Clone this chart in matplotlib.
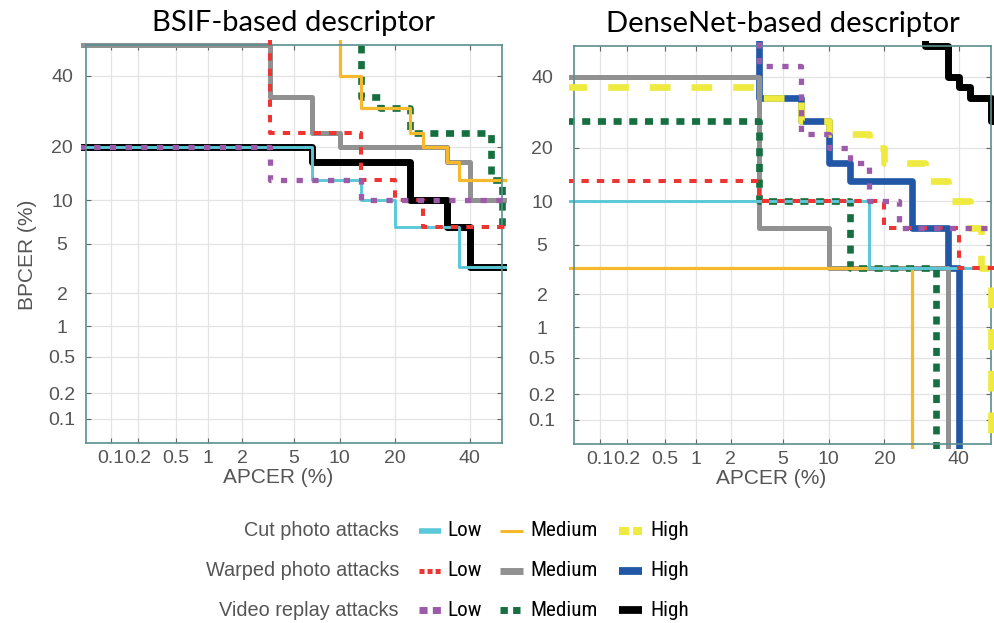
import math
import numpy as np
import matplotlib
matplotlib.use("Agg")
import matplotlib.pyplot as plt
from matplotlib.lines import Line2D
from matplotlib.transforms import Bbox, TransformedBbox
from matplotlib import font_manager

plt.rcParams['lines.scale_dashes'] = False

# ---------------- data (percent) ----------------
TICKS = [0.1, 0.2, 0.5, 1, 2, 5, 10, 20, 40]
TICK_LABELS = ['0.1', '0.2', '0.5', '1', '2', '5', '10', '20', '40']
AXIS_LIMITS = [0.05, 50]

ATTACKS = ['Cut photo attacks', 'Warped photo attacks', 'Video replay attacks']
LEVELS = ['Low', 'Medium', 'High']
TITLES = ['BSIF-based descriptor', 'DenseNet-based descriptor']

# BSIF-based descriptor: APCER / BPCER step vertices (%)
bsif_cut_low_apcer = [0.04, 6.67, 13.3, 20, 36.7, 60]
bsif_cut_low_bpcer = [20, 13.3, 10, 6.67, 3.33, 3.33]
bsif_cut_med_apcer = [0.04, 10, 13.3, 23.3, 26.7, 33.3, 36.7, 60]
bsif_cut_med_bpcer = [60, 40, 30, 23.3, 20, 16.7, 13.3, 13.3]
bsif_warp_low_apcer = [0.04, 3.33, 13.3, 20, 26.7, 60]
bsif_warp_low_bpcer = [60, 23.3, 13.3, 10, 6.67, 6.67]
bsif_warp_med_apcer = [0.04, 3.33, 6.67, 10, 33.3, 40, 60]
bsif_warp_med_bpcer = [50, 33.3, 23.3, 20, 16.7, 10, 10]
bsif_video_low_apcer = [0.04, 3.33, 13.3, 60]
bsif_video_low_bpcer = [20, 13.3, 10, 10]
bsif_video_med_apcer = [0.04, 13.3, 16.7, 23.3, 46.7, 50, 60]
bsif_video_med_bpcer = [60, 33.3, 30, 23.3, 13.3, 6.67, 6.67]
bsif_video_high_apcer = [0.04, 6.67, 23.3, 33.3, 40, 60]
bsif_video_high_bpcer = [20, 16.7, 10, 6.67, 3.33, 3.33]

# DenseNet-based descriptor
dn_cut_low_apcer = [0.04, 16.7, 60]
dn_cut_low_bpcer = [10, 3.33, 3.33]
dn_cut_med_apcer = [0.04, 26.7]
dn_cut_med_bpcer = [3.33, 0.01]
dn_cut_high_apcer = [0.04, 3.33, 6.67, 10, 16.7, 20, 30, 36.7, 43.3, 46.7, 50]
dn_cut_high_bpcer = [36.7, 33.3, 26.7, 23.3, 20, 16.7, 13.3, 10, 6.67, 3.33, 0.01]
dn_warp_low_apcer = [0.04, 3.33, 20, 40, 60]
dn_warp_low_bpcer = [13.3, 10, 6.67, 3.33, 3.33]
dn_warp_med_apcer = [0.04, 3.33, 10, 36.7]
dn_warp_med_bpcer = [40, 6.67, 3.33, 0.01]
dn_warp_high_apcer = [0.04, 3.33, 6.67, 10, 13.3, 26.7, 36.7, 40]
dn_warp_high_bpcer = [60, 33.3, 26.7, 16.7, 13.3, 6.67, 3.33, 0.01]
dn_video_low_apcer = [0.04, 3.33, 6.67, 10, 13.3, 16.7, 23.3, 60]
dn_video_low_bpcer = [60, 43.3, 23.3, 20, 16.7, 10, 6.67, 6.67]
dn_video_med_apcer = [0.04, 3.33, 13.3, 33.3]
dn_video_med_bpcer = [26.7, 10, 3.33, 0.01]
dn_video_high_apcer = [0.04, 30, 36.7, 40, 43.3, 50, 60]
dn_video_high_bpcer = [60, 50, 40, 36.7, 33.3, 26.7, 26.7]

BSIF = {
    ('cut', 'low'): (bsif_cut_low_apcer, bsif_cut_low_bpcer),
    ('cut', 'med'): (bsif_cut_med_apcer, bsif_cut_med_bpcer),
    ('warp', 'low'): (bsif_warp_low_apcer, bsif_warp_low_bpcer),
    ('warp', 'med'): (bsif_warp_med_apcer, bsif_warp_med_bpcer),
    ('video', 'low'): (bsif_video_low_apcer, bsif_video_low_bpcer),
    ('video', 'med'): (bsif_video_med_apcer, bsif_video_med_bpcer),
    ('video', 'high'): (bsif_video_high_apcer, bsif_video_high_bpcer),
}
DENSENET = {
    ('cut', 'low'): (dn_cut_low_apcer, dn_cut_low_bpcer),
    ('cut', 'med'): (dn_cut_med_apcer, dn_cut_med_bpcer),
    ('cut', 'high'): (dn_cut_high_apcer, dn_cut_high_bpcer),
    ('warp', 'low'): (dn_warp_low_apcer, dn_warp_low_bpcer),
    ('warp', 'med'): (dn_warp_med_apcer, dn_warp_med_bpcer),
    ('warp', 'high'): (dn_warp_high_apcer, dn_warp_high_bpcer),
    ('video', 'low'): (dn_video_low_apcer, dn_video_low_bpcer),
    ('video', 'med'): (dn_video_med_apcer, dn_video_med_bpcer),
    ('video', 'high'): (dn_video_high_apcer, dn_video_high_bpcer),
}

# ---------------- styles ----------------
STYLE = {
    ('video', 'high'): dict(color='#000000', lw=5.0, ls='-', z=2.0),
    ('warp', 'high'): dict(color='#2157a6', lw=4.8, ls='-', z=2.1),
    ('warp', 'med'): dict(color='#919191', lw=3.6, ls='-', z=2.2),
    ('video', 'med'): dict(color='#166f40', lw=4.8, ls=(0, (5.8, 5.5)), z=2.3),
    ('cut', 'med'): dict(color='#f6b82c', lw=2.3, ls='-', z=2.4),
    ('cut', 'low'): dict(color='#5ac8d8', lw=2.1, ls='-', z=2.5),
    ('cut', 'high'): dict(color='#eeea40', lw=4.8, ls=(0, (14.9, 15.1)), z=2.6),
    ('warp', 'low'): dict(color='#ef3434', lw=2.9, ls=(0, (5.3, 5.8)), z=2.7),
    ('video', 'low'): dict(color='#9d5aa8', lw=3.8, ls=(0, (4.5, 6.8)), z=2.8),
}
LEGEND_STYLE = {
    ('cut', 'low'): dict(lw=4.0, ls='-'),
    ('cut', 'med'): dict(lw=2.2, ls='-'),
    ('cut', 'high'): dict(lw=5.8, ls=(0, (7.2, 3.0))),
    ('warp', 'low'): dict(lw=3.6, ls=(0, (3.6, 2.2))),
    ('warp', 'med'): dict(lw=5.0, ls='-'),
    ('warp', 'high'): dict(lw=5.6, ls='-'),
    ('video', 'low'): dict(lw=5.0, ls=(0, (5.8, 3.8))),
    ('video', 'med'): dict(lw=5.0, ls=(0, (5.3, 3.8))),
    ('video', 'high'): dict(lw=5.6, ls='-'),
}


def has_font(name):
    try:
        font_manager.findfont(font_manager.FontProperties(family=name),
                              fallback_to_default=False)
        return True
    except Exception:
        return False


SANS = 'Liberation Sans' if has_font('Liberation Sans') else 'DejaVu Sans'
TITLE_FONT = 'Lato' if has_font('Lato') else SANS


def find_condensed():
    prefs = ['Liberation Sans Narrow', 'Roboto Condensed', 'Open Sans Condensed',
             'Noto Sans Condensed', 'DejaVu Sans Condensed', 'Arimo Narrow']
    found = {}
    for f in font_manager.fontManager.ttflist:
        n = f.name
        if f.style != 'normal':
            continue
        w = f.weight
        if not (w in (400, 'normal', 'regular', 'book', 'Regular', 'Book')):
            continue
        fn = f.fname.lower()
        if 'bold' in fn or 'light' in fn or 'italic' in fn or 'oblique' in fn \
                or 'semi' in fn or 'extra' in fn or 'medium' in fn or 'thin' in fn \
                or 'black' in fn:
            continue
        cond = ('Narrow' in n or 'Condensed' in n or 'narrow' in fn or 'condensed' in fn
                or str(f.stretch) in ('condensed', 'semi-condensed'))
        if cond:
            key = n
            if 'condensed' in fn and 'Condensed' not in key:
                key = n + ' Condensed'
            found.setdefault(key, f.fname)
    for p in prefs:
        if p in found:
            return found[p]
    if found:
        return sorted(found.values())[0]
    return None


# ---------------- probit (normal deviate) scale ----------------
_A = [-3.969683028665376e+01, 2.209460984245205e+02, -2.759285104469687e+02,
      1.383577518672690e+02, -3.066479806614716e+01, 2.506628277459239e+00]
_B = [-5.447609879822406e+01, 1.615858368580409e+02, -1.556989798598866e+02,
      6.680131188771972e+01, -1.328068155288572e+01]
_C = [-7.784894002430293e-03, -3.223964580411365e-01, -2.400758277161838e+00,
      -2.549671015763376e+00, 4.374664141464968e+00, 2.938163982698783e+00]
_D = [7.784695709041462e-03, 3.224671290700398e-01, 2.445134137142996e+00,
      3.754408661907416e+00]


def _ppf(p):
    out = np.empty_like(p)
    plow = 0.02425
    lo = p < plow
    hi = p > 1 - plow
    mid = ~lo & ~hi
    q = np.sqrt(-2 * np.log(p[lo]))
    out[lo] = (((((_C[0]*q+_C[1])*q+_C[2])*q+_C[3])*q+_C[4])*q+_C[5]) / \
              ((((_D[0]*q+_D[1])*q+_D[2])*q+_D[3])*q+1)
    q = np.sqrt(-2 * np.log(1 - p[hi]))
    out[hi] = -(((((_C[0]*q+_C[1])*q+_C[2])*q+_C[3])*q+_C[4])*q+_C[5]) / \
               ((((_D[0]*q+_D[1])*q+_D[2])*q+_D[3])*q+1)
    q = p[mid] - 0.5
    r = q * q
    out[mid] = (((((_A[0]*r+_A[1])*r+_A[2])*r+_A[3])*r+_A[4])*r+_A[5])*q / \
               (((((_B[0]*r+_B[1])*r+_B[2])*r+_B[3])*r+_B[4])*r+1)
    return out


def probit(pct):
    a = np.asarray(pct, dtype=float)
    shape = a.shape
    p = np.clip(a.ravel() / 100.0, 1e-10, 1 - 1e-10)
    return _ppf(p).reshape(shape)


_erf = np.vectorize(math.erf, otypes=[float])


def inv_probit(z):
    z = np.asarray(z, dtype=float)
    return 50.0 * (1.0 + _erf(z / math.sqrt(2.0)))


# ---------------- figure ----------------
fig = plt.figure(figsize=(9.95, 6.23), dpi=100)
W, H = 995.0, 623.0
renderer = fig.canvas.get_renderer()

# legend value font: condensed if available, size fitted to the width of "Medium"
cond_path = find_condensed()
if cond_path is not None:
    leg_prop = font_manager.FontProperties(fname=cond_path, size=10)
else:
    leg_prop = font_manager.FontProperties(family=SANS, size=10)
w10, _, _ = renderer.get_text_width_height_descent('Medium', leg_prop, ismath=False)
leg_size = min(17.0, 10.0 * 67.0 / max(w10, 1.0))
leg_prop.set_size(leg_size)

ax_rects = [
    [85.7 / W, (H - 443) / H, 416.0 / W, 398.0 / H],
    [574.3 / W, (H - 444) / H, 416.7 / W, 398.0 / H],
]
ytick_pads = [17.0, 23.3]
xlabel_x = [0.462, 0.473]

TICK_COLOR = '#555555'
SPINE_COLOR = '#5b8f8f'

for idx, (data, rect) in enumerate(zip([BSIF, DENSENET], ax_rects)):
    ax = fig.add_axes(rect)
    ax.set_xscale('function', functions=(probit, inv_probit))
    ax.set_yscale('function', functions=(probit, inv_probit))
    ax.set_xlim(AXIS_LIMITS)
    ax.set_ylim(AXIS_LIMITS)
    ax.set_xticks(TICKS)
    ax.set_xticklabels(TICK_LABELS)
    ax.set_yticks(TICKS)
    ax.set_yticklabels(TICK_LABELS)
    ax.minorticks_off()
    ax.grid(True, color='#e4e4e4', lw=0.9, zorder=0)
    ax.set_axisbelow(True)
    for sp in ax.spines.values():
        sp.set_color(SPINE_COLOR)
        sp.set_linewidth(1.2)
    ax.tick_params(which='both', direction='in', top=True, right=True,
                   length=3.5, width=0.8, color='#666666',
                   labelcolor=TICK_COLOR, labelsize=14)
    ax.tick_params(axis='x', pad=5)
    ax.tick_params(axis='y', pad=ytick_pads[idx])
    for lab in ax.get_yticklabels():
        lab.set_horizontalalignment('center')
        lab.set_fontfamily(SANS)
    for lab in ax.get_xticklabels():
        lab.set_fontfamily(SANS)

    clip = TransformedBbox(Bbox([[-0.012, -0.012], [1.012, 1.012]]), ax.transAxes)
    for key, (xs, ys) in data.items():
        st = STYLE[key]
        ln, = ax.plot(xs, ys, drawstyle='steps-post', color=st['color'],
                      lw=st['lw'], ls=st['ls'], zorder=st['z'],
                      solid_joinstyle='round', dash_joinstyle='round',
                      solid_capstyle='butt', dash_capstyle='butt')
        ln.set_clip_box(clip)

    ax.set_title(TITLES[idx], fontsize=21, family=TITLE_FONT, color='black', pad=10)
    ax.set_xlabel('APCER (%)', fontsize=15, family=SANS, color=TICK_COLOR)
    ax.xaxis.set_label_coords(xlabel_x[idx], -0.063)
    if idx == 0:
        ax.set_ylabel('BPCER (%)', fontsize=15, family=SANS, color=TICK_COLOR)
        ax.yaxis.set_label_coords(-0.117, 0.472)

# ---------------- legend ----------------
row_keys = ['cut', 'warp', 'video']
lev_keys = ['low', 'med', 'high']
row_base = [536.5, 576.5, 616.5]
row_mid = [530.5, 570.5, 610.3]
sample_x = [(419.3, 440.7), (500.0, 523.3), (619.3, 641.7)]
text_x = [447.3, 530.0, 650.0]

for r, rk in enumerate(row_keys):
    fig.text(399.0 / W, 1 - row_base[r] / H, ATTACKS[r], ha='right', va='baseline',
             fontsize=14.3, family=SANS, color=TICK_COLOR)
    for c, lk in enumerate(lev_keys):
        st = STYLE[(rk, lk)]
        ls = LEGEND_STYLE[(rk, lk)]
        x0, x1 = sample_x[c]
        y = 1 - row_mid[r] / H
        line = Line2D([x0 / W, x1 / W], [y, y], transform=fig.transFigure,
                      color=st['color'], lw=ls['lw'], ls=ls['ls'],
                      solid_capstyle='butt', dash_capstyle='butt')
        fig.add_artist(line)
        fig.text(text_x[c] / W, 1 - row_base[r] / H, LEVELS[c], ha='left',
                 va='baseline', fontproperties=leg_prop, color='black')

fig.savefig('out.png', dpi=100)
